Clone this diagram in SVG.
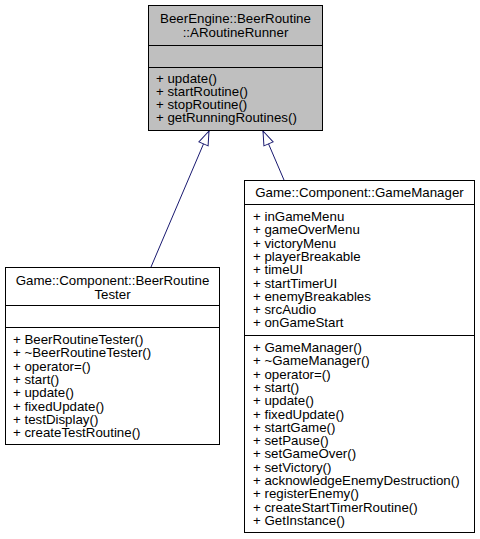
<svg xmlns="http://www.w3.org/2000/svg" width="480" height="539" viewBox="0 0 480 539">
<defs>
<style>
.box{fill:#ffffff;stroke:#000000;stroke-width:1}
.base{fill:#bfbfbf;stroke:#000000;stroke-width:1}
.div{stroke:#000000;stroke-width:1}
text{font-family:"Liberation Sans",Arial,Helvetica,sans-serif;font-size:13.3px;fill:#000000}
.c{text-anchor:middle}
.edge{fill:none;stroke:#191970;stroke-width:1}
</style>
<marker id="inh" markerUnits="userSpaceOnUse" markerWidth="16" markerHeight="12" refX="14" refY="0" viewBox="-1 -6 16 12" orient="auto" overflow="visible">
<path d="M0,-5 L14,0 L0,5 Z" fill="#ffffff" stroke="#191970" stroke-width="1"/>
</marker>
</defs>
<rect width="480" height="539" fill="#ffffff"/>
<g id="connectors">
<path class="edge" d="M151,267 L209,131" marker-end="url(#inh)"/>
<path class="edge" d="M284,180 L263,131" marker-end="url(#inh)"/>
</g>
<g id="ARoutineRunner">
<rect class="base" x="148.5" y="5.5" width="174" height="125"/>
<line class="div" x1="148.5" y1="45.5" x2="322.5" y2="45.5"/>
<line class="div" x1="148.5" y1="67.5" x2="322.5" y2="67.5"/>
<text class="c" x="235.5" y="23">BeerEngine::BeerRoutine</text>
<text class="c" x="235.5" y="36.5">::ARoutineRunner</text>
<text x="156" y="82.5"><tspan x="156">+ update()</tspan><tspan x="156" dy="13.3">+ startRoutine()</tspan><tspan x="156" dy="13.3">+ stopRoutine()</tspan><tspan x="156" dy="13.3">+ getRunningRoutines()</tspan></text>
</g>
<g id="BeerRoutineTester">
<rect class="box" x="5.5" y="267.5" width="214" height="177"/>
<line class="div" x1="5.5" y1="305.5" x2="219.5" y2="305.5"/>
<line class="div" x1="5.5" y1="327.5" x2="219.5" y2="327.5"/>
<text class="c" x="112.5" y="285">Game::Component::BeerRoutine</text>
<text class="c" x="112.5" y="298.5">Tester</text>
<text x="13" y="344"><tspan x="13">+ BeerRoutineTester()</tspan><tspan x="13" dy="13.3">+ ~BeerRoutineTester()</tspan><tspan x="13" dy="13.3">+ operator=()</tspan><tspan x="13" dy="13.3">+ start()</tspan><tspan x="13" dy="13.3">+ update()</tspan><tspan x="13" dy="13.3">+ fixedUpdate()</tspan><tspan x="13" dy="13.3">+ testDisplay()</tspan><tspan x="13" dy="13.3">+ createTestRoutine()</tspan></text>
</g>
<g id="GameManager">
<rect class="box" x="244.5" y="180.5" width="230" height="352"/>
<line class="div" x1="244.5" y1="204.5" x2="474.5" y2="204.5"/>
<line class="div" x1="244.5" y1="335.5" x2="474.5" y2="335.5"/>
<text class="c" x="359.5" y="196.5">Game::Component::GameManager</text>
<text x="253" y="221"><tspan x="253">+ inGameMenu</tspan><tspan x="253" dy="13.3">+ gameOverMenu</tspan><tspan x="253" dy="13.3">+ victoryMenu</tspan><tspan x="253" dy="13.3">+ playerBreakable</tspan><tspan x="253" dy="13.3">+ timeUI</tspan><tspan x="253" dy="13.3">+ startTimerUI</tspan><tspan x="253" dy="13.3">+ enemyBreakables</tspan><tspan x="253" dy="13.3">+ srcAudio</tspan><tspan x="253" dy="13.3">+ onGameStart</tspan></text>
<text x="253" y="352"><tspan x="253">+ GameManager()</tspan><tspan x="253" dy="13.3">+ ~GameManager()</tspan><tspan x="253" dy="13.3">+ operator=()</tspan><tspan x="253" dy="13.3">+ start()</tspan><tspan x="253" dy="13.3">+ update()</tspan><tspan x="253" dy="13.3">+ fixedUpdate()</tspan><tspan x="253" dy="13.3">+ startGame()</tspan><tspan x="253" dy="13.3">+ setPause()</tspan><tspan x="253" dy="13.3">+ setGameOver()</tspan><tspan x="253" dy="13.3">+ setVictory()</tspan><tspan x="253" dy="13.3">+ acknowledgeEnemyDestruction()</tspan><tspan x="253" dy="13.3">+ registerEnemy()</tspan><tspan x="253" dy="13.3">+ createStartTimerRoutine()</tspan><tspan x="253" dy="13.3">+ GetInstance()</tspan></text>
</g>
</svg>
